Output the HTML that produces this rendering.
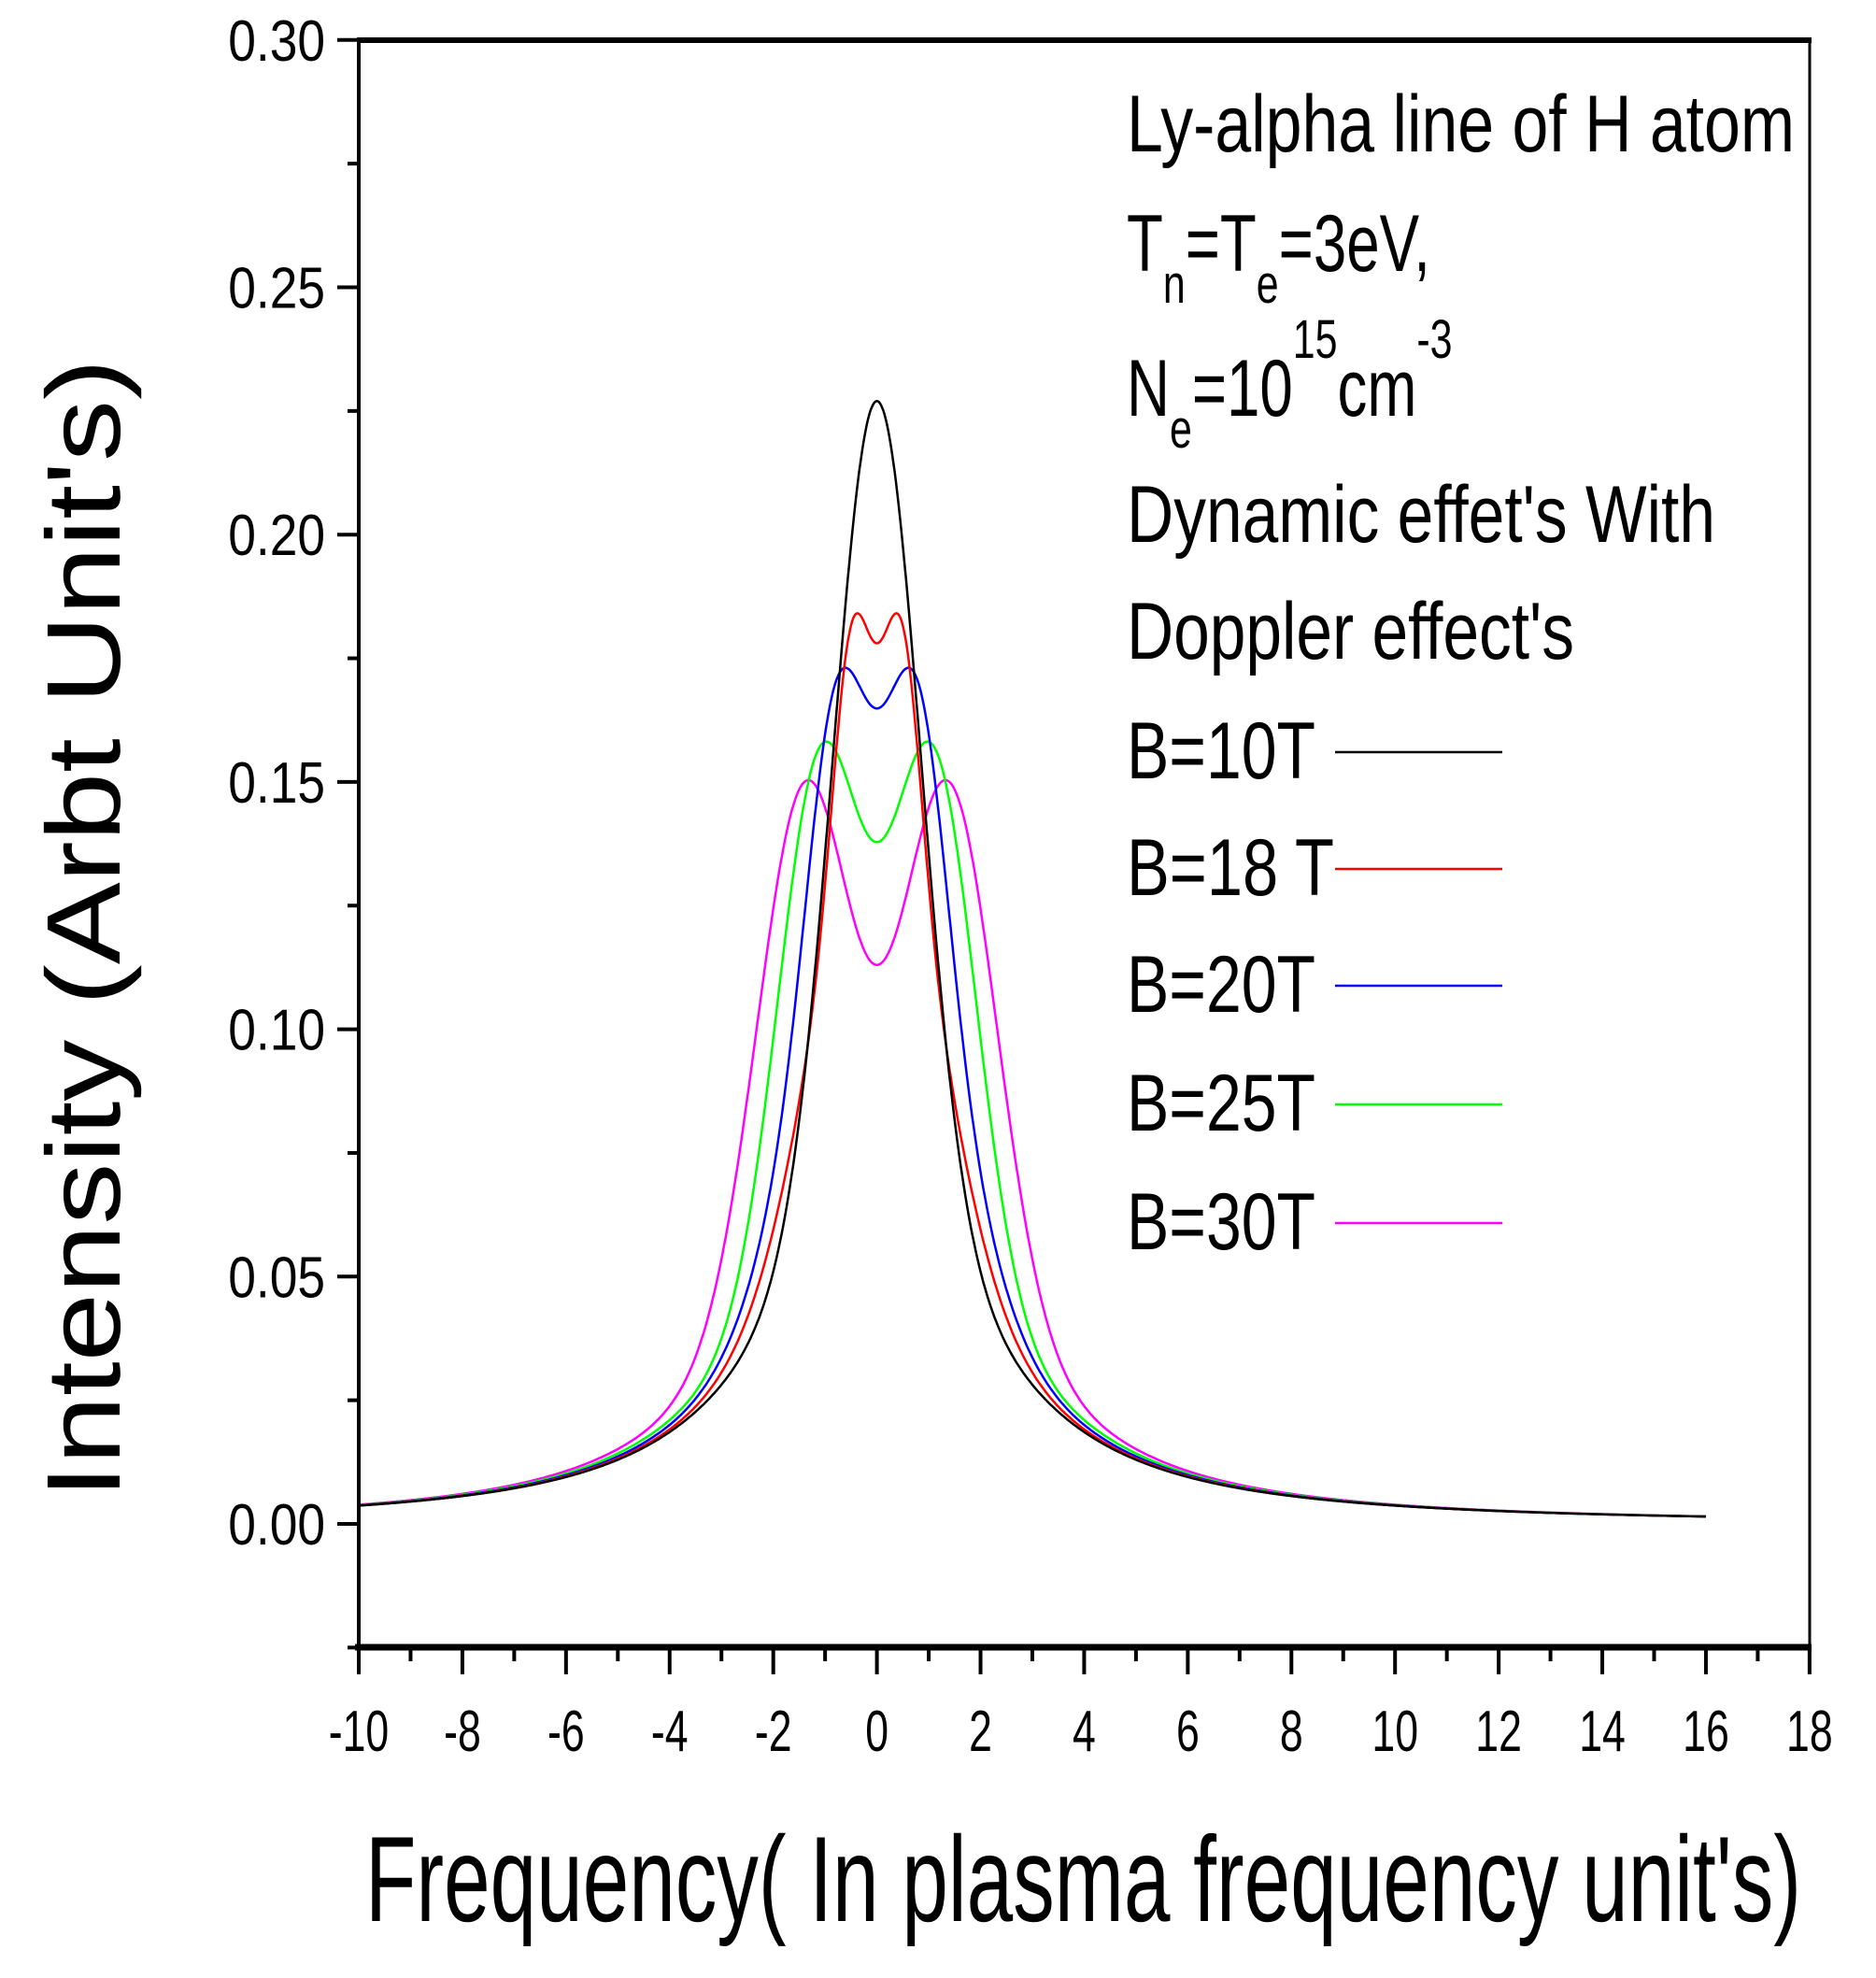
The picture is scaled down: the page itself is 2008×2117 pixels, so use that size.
<!DOCTYPE html>
<html><head><meta charset="utf-8"><style>
html,body{margin:0;padding:0;background:#fff;}
svg{display:block;}
text{font-family:"Liberation Sans",sans-serif;fill:#000;}
</style></head><body>
<svg id="s" width="2008" height="2117" viewBox="0 0 2008 2117" xmlns="http://www.w3.org/2000/svg">
<rect width="2008" height="2117" fill="#fff"/>
<g id="curves" fill="none" stroke-width="2.5"></g>
<line x1="382" y1="43" x2="1939" y2="43" stroke="#000" stroke-width="6"/>
<line x1="384" y1="43" x2="384" y2="1764" stroke="#000" stroke-width="4"/>
<line x1="1937" y1="43" x2="1937" y2="1764" stroke="#000" stroke-width="3"/>
<line x1="380" y1="1763" x2="1939" y2="1763" stroke="#000" stroke-width="7"/>
<g id="ticks" stroke="#000" stroke-width="4"></g>
<g id="labels" font-size="62"></g>
<text x="391" y="2056" font-size="130" textLength="1537" lengthAdjust="spacingAndGlyphs">Frequency( In plasma frequency unit's)</text>
<text transform="translate(128,1604) rotate(-90)" font-size="112" textLength="1220" lengthAdjust="spacingAndGlyphs">Intensity (Arbt Unit's)</text>
<g font-size="86">
<text x="1206" y="162" textLength="715" lengthAdjust="spacingAndGlyphs">Ly-alpha line of H atom</text>
<g transform="translate(1206,290) scale(0.74,1)"><text x="0" y="0">T<tspan font-size="58" dy="34">n</tspan><tspan dy="-34">=T</tspan><tspan font-size="58" dy="34">e</tspan><tspan dy="-34">=3eV,</tspan></text></g>
<g transform="translate(1206,445) scale(0.74,1)"><text x="0" y="0">N<tspan font-size="58" dy="34">e</tspan><tspan dy="-34">=10</tspan><tspan font-size="58" dy="-62">15</tspan><tspan dy="62">cm</tspan><tspan font-size="58" dy="-62">-3</tspan></text></g>
<text x="1206" y="580" textLength="630" lengthAdjust="spacingAndGlyphs">Dynamic effet's With</text>
<text x="1206" y="705" textLength="479" lengthAdjust="spacingAndGlyphs">Doppler effect's</text>
<text x="1206" y="833" textLength="202" lengthAdjust="spacingAndGlyphs">B=10T</text>
<text x="1206" y="958" textLength="222" lengthAdjust="spacingAndGlyphs">B=18 T</text>
<text x="1206" y="1083" textLength="202" lengthAdjust="spacingAndGlyphs">B=20T</text>
<text x="1206" y="1210" textLength="202" lengthAdjust="spacingAndGlyphs">B=25T</text>
<text x="1206" y="1337" textLength="202" lengthAdjust="spacingAndGlyphs">B=30T</text>
</g>
<g stroke-width="2.5">
<line x1="1429" y1="805" x2="1608" y2="805" stroke="#000"/>
<line x1="1429" y1="930" x2="1608" y2="930" stroke="#ff0000"/>
<line x1="1429" y1="1055" x2="1608" y2="1055" stroke="#0000ff"/>
<line x1="1429" y1="1182" x2="1608" y2="1182" stroke="#00ff00"/>
<line x1="1429" y1="1309" x2="1608" y2="1309" stroke="#ff00ff"/>
</g>
</svg>
<script>
(function(){
var NS="http://www.w3.org/2000/svg";
function X(v){return 384+(v+10)*55.46;}
function Y(v){return 1631-v/0.05*264.7;}
function el(p,t,a,txt){var e=document.createElementNS(NS,t);for(var k in a)e.setAttribute(k,a[k]);if(txt!==undefined)e.textContent=txt;p.appendChild(e);return e;}
var ticks=document.getElementById('ticks'),labels=document.getElementById('labels'),curves=document.getElementById('curves');
for(var i=-1;i<=12;i++){var v=i*0.025;var y=Y(v);var maj=(i%2===0);
 el(ticks,'line',{x1:maj?361:372,y1:y,x2:384,y2:y});
 if(maj&&i>=0){var g=el(labels,'g',{transform:'translate(348,'+(y+22)+') scale(0.86,1)'});
 el(g,'text',{x:0,y:0,'text-anchor':'end'},(v).toFixed(2));}}
for(var j=-10;j<=18;j++){var x=X(j);var maj=(j%2===0);
 el(ticks,'line',{x1:x,y1:1763,x2:x,y2:maj?1792:1778});
 if(maj){var g=el(labels,'g',{transform:'translate('+x+',1874) scale(0.72,1)'});
 el(g,'text',{x:0,y:0,'text-anchor':'middle'},String(j));}}
function L(x){return 0.08/(1+(x/2.2)*(x/2.2));}
function G(x,b,s){return b?b*Math.exp(-x*x/(2*s*s)):0;}
function P(x,c){return L(x)+G(x,c[2],c[3])+G(x,c[4],c[5]);}
var sets=[['#ff00ff',1.4,0.188,0.9,0,1],['#00ff00',1.1,0.19,0.8,0,1],['#0000ff',0.8,0.104,0.55,0.08,1.0],['#ff0000',0.5,0.087,0.35,0.08,1.0],['#000000',0,0.147,0.815,0,1]];
sets.forEach(function(c){var d='';for(var x=-10;x<=16.0001;x+=0.02){var f=0.5*(P(x-c[1],c)+P(x+c[1],c));d+=(d?'L':'M')+X(x).toFixed(1)+','+Y(f).toFixed(1);}
 el(curves,'path',{d:d,stroke:c[0]});});
})();
</script>
</body></html>
